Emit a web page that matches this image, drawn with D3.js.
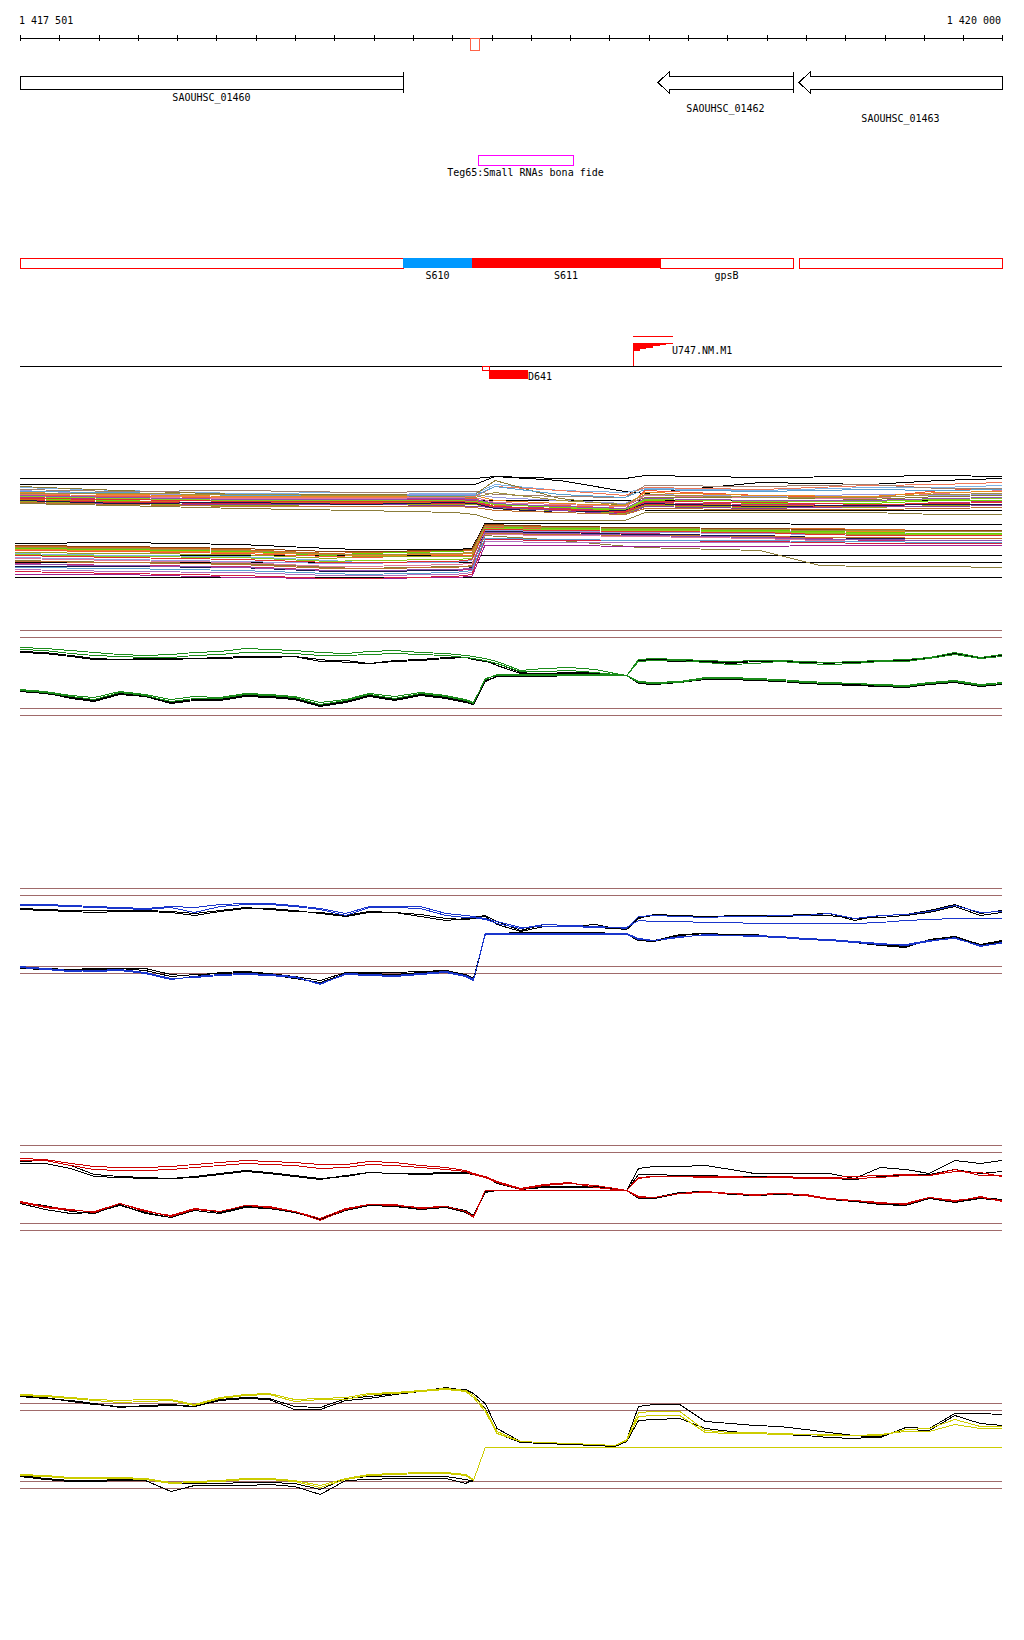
<!DOCTYPE html>
<html><head><meta charset="utf-8">
<script src="https://cdn.jsdelivr.net/npm/d3@7"></script>
<style>
html,body{margin:0;padding:0;background:#fff;}
svg text{font-family:"DejaVu Sans Mono",monospace;font-size:10px;fill:#000;}
svg line, svg rect, svg path, svg polygon{shape-rendering:crispEdges;}
</style></head><body>
<svg id="c" width="1024" height="1640"></svg>
<script>
// ---------------- DATA ----------------
const startPos = 1417501, endPos = 1420000;
const axisTicks = [1417501,1417601,1417701,1417801,1417901,1418001,1418101,1418201,1418301,1418401,1418501,1418601,1418701,1418801,1418901,1419001,1419101,1419201,1419301,1419401,1419501,1419601,1419701,1419801,1419901,1420000];
const axisLabels = ["1 417 501","1 420 000"];
const axisMarker = [1418646,1418669];

const geneNames = ["SAOUHSC_01460","SAOUHSC_01462","SAOUHSC_01463"];
const geneStart = [1417501,1419125,1419483];
const geneEnd = [1418476,1419468,1420000];
const geneStrand = ["+","-","-"];
const geneLabelRow = [0,1,2];

const srnaName = ["Teg65:Small RNAs bona fide"];
const srnaStart = [1418666];
const srnaEnd = [1418908];

const segStart = [1417501,1418476,1418651,1419130,1419483];
const segEnd = [1418476,1418651,1419130,1419468,1420000];
const segType = ["outline","blue","red","outline","outline"];
const segLabel = ["","S610","S611","gpsB",""];

const tssName = ["U747.NM.M1"];
const tssStart = [1419061];
const tssEnd = [1419163];
const tssSteps = [8,6,4.5,3,2,1];
const dName = ["D641"];
const dOutline = [1418677,1418695];
const dFill = [1418695,1418794];

// dense expression track (many conditions)
const denseUpPos = [1417501,1417755,1418061,1418366,1418608,1418659,1418710,1418875,1419041,1419092,1419384,1419664,1419842,1420000];
const du01 = [112,112,112,112,112,112,114,112,112,115,113,114,115,114];
const du02 = [106,106,106,106,106,106,114,110,99,97,108,106,110,112];
const du03 = [null,null,null,90,90,90,90,90,90,90,90,90,90,90];
const du04 = [null,null,null,null,null,null,null,null,null,80,80,80,80,80];
const du05 = [103,100,97,98,97,97,106,100,98,102,100,103,103,105];
const du06 = [104,100,96,96,96,96,110,92,85,93,93,91,94,95];
const du07 = [100,96,96,95,96,96,93,90,87,96,94,96,95,96];
const du08 = [95,94,93,93,93,92,85,85,82,100,95,93,100,102];
const du09 = [92,90,87,89,90,90,86,83,80,90,87,87,90,90];
const du10 = [93,91,90,90,91,90,84,82,79,88,86,85,88,89];
const du11 = [91,89,88,88,88,88,83,81,78,87,85,84,87,88];
const du12 = [90,88,87,87,87,87,84,81,78,86,84,83,85,86];
const du13 = [89,87,85,86,86,86,82,80,77,85,83,83,85,86];
const du14 = [87,87,86,86,85,84,83,80,76,84,82,84,84,85];
const du15 = [87,85,82,80,78,76,70,70,70,78,78,78,76,76];
const du16 = [90,87,88,86,88,87,82,78,80,87,84,85,86,86];
const du17 = [96,95,93,93,94,94,104,100,95,103,101,105,106,108];
const du18 = [94,93,92,92,93,93,88,86,84,95,93,92,97,100];
const du19 = [98,96,94,94,95,95,90,87,85,98,95,94,98,99];
const du20 = [101,99,100,98,99,99,96,94,93,105,104,106,102,102];
const du21 = [99,98,95,95,95,95,104,96,93,101,99,101,100,101];
const du22 = [94,92,90,90,90,89,86,84,81,91,89,89,91,92];
const du23 = [92,91,89,89,89,88,84,81,79,89,88,86,87,88];
const du24 = [88,86,84,84,84,83,80,78,76,82,81,81,82,83];
const du25 = [95,93,91,91,92,91,87,84,82,92,90,90,92,93];
const du26 = [97,97,96,95,94,93,98,90,86,96,93,93,96,97];
const denseUpColors = ["#000","#000","#000","#000","#7fb2e5","#8c7a32","#9a9ae0","#f05a3a","#70d800","#c02c78","#d2691e","#d42040","#9aa51c","#8a3c9c","#8b7d3a","#1a1a4a","#f07858","#e07aa0","#e88a20","#a08070","#5aa0d0","#88cc22","#e03030","#c07030","#9050b0","#a09040"];

const denseLowPos = [1417488,1417755,1418061,1418290,1418366,1418608,1418651,1418684,1418875,1419079,1419384,1419537,1419664,1419842,1420000];
const dl01 = [47,48,46,42,41,41,42,67,67,67,67,66,66,66,66];
const dl02 = [37,35,34,30,28,28,30,62,62,61,60,58,57,57,57];
const dl03 = [44,43,41,37,38,39,40,65,64,63,62,62,61,60,60];
const dl04 = [42,41,39,35,37,39,38,63,62,61,60,59,58,57,57];
const dl05 = [40,39,37,34,33,35,35,63,61,60,59,57,57,56,56];
const dl06 = [27,25,24,20,19,20,21,60,58,57,54,52,50,50,50];
const dl07 = [24,24,23,19,19,20,23,59,58,56,55,53,52,52,52];
const dl08 = [33,31,29,27,27,29,30,60,59,58,57,56,55,56,56];
const dl09 = [30,28,27,23,22,24,24,55,50,43,40,25,24,24,23];
const dl10 = [16,16,13,12,12,13,14,45,45,44,44,45,45,45,45];
const dl11 = [21,19,18,15,15,16,18,49,48,48,48,48,47,48,48];
const dl12 = [19,17,15,12,12,14,16,51,50,50,49,48,47,47,47];
const dl13 = [38,37,36,32,34,34,34,61,60,59,58,57,56,56,56];
const dl14 = [45,44,42,39,39,40,41,66,64,63,62,61,60,60,60];
const dl15 = [32,30,28,24,24,26,27,56,55,54,52,50,49,48,48];
const dl16 = [41,40,38,36,35,36,37,64,63,62,61,60,59,59,59];
const dl17 = [36,34,33,29,30,31,32,62,61,60,59,58,57,56,56];
const dl18 = [35,33,31,28,28,29,31,61,60,59,58,56,55,55,55];
const dl19 = [23,22,20,17,16,18,20,52,51,50,50,49,49,48,48];
const dl20 = [29,28,26,22,22,23,25,57,56,55,54,53,53,52,52];
const dl21 = [26,25,23,20,20,21,22,58,57,55,53,51,51,50,50];
const dl22 = [43,42,40,36,36,37,38,64,63,62,61,60,60,59,59];
const denseLowColors = ["#000","#7fb2e5","#d2691e","#66d400","#f05a3a","#c02c78","#1a1a4a","#9a9ae0","#8b7d3a","#a02090","#b070c0","#d42040","#9aa51c","#8b4513","#e07aa0","#e88a20","#88cc22","#e03030","#5aa0d0","#c07030","#9050b0","#a09040"];
const denseFlat = [35,28,13];

// four condition panels
const knotPos = [1417501,1417565,1417630,1417690,1417755,1417820,1417885,1417945,1418010,1418075,1418135,1418200,1418265,1418330,1418390,1418455,1418520,1418585,1418635,1418655,1418685,1418715,1418775,1418835,1418900,1418965,1419015,1419045,1419075,1419115,1419180,1419245,1419310,1419370,1419435,1419500,1419560,1419625,1419690,1419755,1419815,1419880,1419945,1420000];
const panelThresholds = [90,83,12,5];

const p1g1u = [73,72,70,68,66,65,66,68,69,72,71,70,68,67,69,70,68,67,65,64,62,59,50,52,53,51,47,45,61,62,61,60,59,60,60,59,58,59,60,61,63,68,63,66];
const p1g2u = [71,70,67,65,64,63,63,65,66,68,68,67,65,65,66,67,66,65,63,62,60,57,49,49,50,48,46,45,59,60,60,58,56,57,59,57,56,57,59,59,62,66,62,64];
const p1k1u = [68,67,64,61,61,61,61,62,62,63,63,64,61,58,57,59,60,62,63,62,60,55,47,47,48,48,46,45,60,61,60,59,58,60,60,59,57,59,60,60,63,67,62,66];
const p1k2u = [69,68,65,62,61,62,62,62,63,64,64,64,59,60,57,60,61,63,63,61,59,57,48,46,47,47,46,45,59,60,59,59,57,59,59,58,58,58,59,60,62,66,63,65];
const p1g1d = [30,28,24,21,28,25,19,22,22,26,25,23,16,20,26,22,27,24,20,17,42,45,45,45,45,45,45,45,38,37,38,42,42,41,40,38,37,37,35,34,37,39,35,37];
const p1g2d = [31,29,25,23,29,26,21,24,23,27,26,24,18,21,27,24,28,25,21,18,41,46,46,46,46,46,46,45,39,38,39,43,43,42,41,39,38,37,36,35,38,40,36,38];
const p1k1d = [29,27,23,20,27,24,18,21,21,25,24,22,15,19,25,21,26,23,19,17,40,44,44,44,45,45,45,45,37,36,38,41,41,40,39,37,36,36,34,33,36,38,34,36];
const p1k2d = [30,28,22,19,26,24,17,20,20,24,23,21,14,18,24,20,25,22,18,16,39,44,45,45,45,45,45,45,38,37,38,42,42,41,39,37,36,35,34,33,36,38,35,36];

const p2b1u = [74,74,73,72,71,70,72,71,74,75,75,73,70,65,72,72,72,65,63,62,60,57,51,52,52,51,51,51,58,57,57,56,56,55,55,55,55,55,56,58,59,60,60,60];
const p2b2u = [73,73,72,71,70,69,71,66,72,74,74,72,69,63,71,71,70,63,61,61,59,55,50,54,53,52,51,50,62,63,62,61,62,62,63,63,65,60,63,64,67,73,66,67];
const p2k1u = [70,69,68,68,68,68,67,65,68,71,69,67,66,63,67,66,62,58,60,61,63,57,48,54,53,51,50,49,60,64,63,62,62,63,63,64,65,58,63,64,68,74,65,68];
const p2k2u = [69,68,67,66,67,67,66,63,67,70,70,68,65,62,66,66,64,60,59,60,62,54,47,52,52,54,50,49,61,63,62,61,63,62,62,63,63,60,61,63,66,72,63,66];
const p2b1d = [11,9,7,8,9,6,0,1,3,4,3,1,-5,4,3,2,4,6,2,-2,45,45,45,45,45,45,45,45,40,38,41,44,43,43,42,40,39,37,35,33,37,41,32,36];
const p2b2d = [12,10,8,7,8,5,-1,2,4,5,4,2,-6,5,4,3,5,7,3,-1,44,44,44,44,44,44,44,44,39,38,42,43,43,42,41,39,38,36,34,34,38,40,33,35];
const p2k1d = [10,9,9,10,10,10,4,2,6,7,5,2,-2,6,6,6,7,8,4,0,44,45,46,46,46,46,45,44,38,37,43,45,44,44,41,40,38,37,34,32,38,42,34,38];
const p2k2d = [11,10,9,9,10,8,2,4,5,6,4,0,-4,5,5,4,6,8,2,-2,44,45,45,45,45,45,45,44,38,38,44,45,44,43,42,39,38,36,33,31,39,42,33,37];

const p3r1u = [77,76,72,69,68,68,69,71,73,75,74,73,71,71,74,73,70,68,65,62,59,54,47,51,53,48,46,45,57,59,59,59,58,58,58,57,57,57,58,60,60,64,63,59];
const p3r2u = [75,75,70,66,65,65,66,68,70,72,71,70,67,68,71,70,68,66,64,61,58,53,46,50,52,50,47,45,58,59,59,58,59,58,59,58,58,59,60,61,60,66,60,60];
const p3k1u = [74,75,70,61,59,58,57,59,62,65,63,60,57,59,63,62,62,63,63,61,58,53,46,49,48,48,46,45,67,69,69,70,66,62,62,62,62,57,68,66,62,75,72,75];
const p3k2u = [72,72,67,59,58,57,57,58,61,64,62,59,56,60,63,62,61,62,62,61,59,52,46,48,49,49,47,45,61,61,60,60,59,59,59,58,57,56,59,60,61,66,62,64];
const p3r1d = [33,28,25,24,32,24,20,27,24,30,29,24,17,27,31,31,27,29,24,19,45,45,45,45,45,45,45,45,39,38,42,44,42,41,42,41,37,35,33,31,38,35,38,35];
const p3r2d = [34,29,26,23,32,25,19,26,24,30,28,24,15,26,31,30,28,29,24,18,45,45,45,45,45,45,45,45,38,38,42,43,42,40,42,40,36,35,32,32,38,34,39,34];
const p3k1d = [33,30,24,22,31,22,18,27,23,29,28,23,17,26,30,30,27,29,25,20,44,45,45,45,45,45,45,45,38,37,42,44,42,41,42,40,36,34,31,30,38,34,38,36];
const p3k2d = [32,26,22,23,30,23,18,25,22,28,27,23,16,25,30,29,26,28,23,19,43,45,45,45,45,45,45,45,37,38,43,44,41,40,41,40,37,34,32,30,37,33,37,35];

const p4y1u = [99,98,96,94,93,94,94,89,96,99,100,94,95,96,100,101,103,105,103,98,84,62,52,51,50,49,48,54,81,82,82,63,61,61,60,59,59,58,58,64,65,74,67,67];
const p4y2u = [98,97,95,93,91,92,93,88,95,98,99,92,94,94,99,100,102,104,102,96,82,60,52,51,50,49,48,53,77,78,78,61,60,60,59,59,58,58,59,62,62,69,65,65];
const p4k1u = [97,95,93,90,86,88,89,87,93,95,94,84,84,93,95,99,102,106,103,98,85,60,51,50,49,48,47,54,87,89,89,72,70,68,67,64,61,58,56,66,65,80,80,79];
const p4k2u = [98,96,92,89,87,87,88,87,94,96,95,87,86,95,97,100,103,105,104,100,90,65,52,51,50,49,47,52,73,74,75,65,62,60,59,58,56,55,57,64,63,78,70,68];
const p4y1d = [18,17,15,15,15,14,10,11,12,14,14,12,6,14,18,19,20,20,18,13,46,46,46,46,46,46,46,46,46,46,46,46,46,46,46,46,46,46,46,46,46,46,46,46];
const p4y2d = [19,18,16,16,16,15,11,12,13,15,15,13,8,15,19,20,21,21,19,14,null,null,null,null,null,null,null,null,null,null,null,null,null,null,null,null,null,null,null,null,null,null,null,null];
const p4k1d = [17,14,12,12,13,13,2,8,8,8,9,7,-1,13,14,15,15,15,10,14,null,null,null,null,null,null,null,null,null,null,null,null,null,null,null,null,null,null,null,null,null,null,null,null];
const p4k2d = [18,15,13,13,14,14,10,10,10,11,11,10,4,15,17,17,17,17,14,12,null,null,null,null,null,null,null,null,null,null,null,null,null,null,null,null,null,null,null,null,null,null,null,null];

// ---------------- DRAW ----------------
const svg = d3.select("#c");
const x = d3.scaleLinear().domain([startPos, endPos]).range([20, 1002]);
const px = v => Math.round(x(v));

// top ruler
svg.append("line").attr("x1", px(startPos)).attr("x2", px(endPos)).attr("y1", 38).attr("y2", 38).attr("stroke", "#000");
svg.selectAll("line.tick").data(axisTicks).join("line").attr("class","tick")
  .attr("x1", d => px(d)).attr("x2", d => px(d)).attr("y1", 35).attr("y2", 41).attr("stroke", "#000");
svg.append("text").attr("x", px(startPos) - 1).attr("y", 24).text(axisLabels[0]);
svg.append("text").attr("x", px(endPos) - 1).attr("y", 24).attr("text-anchor", "end").text(axisLabels[1]);
svg.append("rect").attr("x", px(axisMarker[0])).attr("y", 38).attr("width", px(axisMarker[1]) - px(axisMarker[0])).attr("height", 12)
  .attr("fill", "#fff").attr("stroke", "#ff6347");

// genes
const gTop = 76, gBot = 89, head = 11;
geneNames.forEach((name, i) => {
  const x0 = px(geneStart[i]), x1 = px(geneEnd[i]);
  let d;
  if (geneStrand[i] === "-") {
    const xm = x0 + head;
    d = `M${x0},${(gTop+gBot)/2} L${xm},${gTop-4} L${xm},${gTop} L${x1},${gTop} L${x1},${gBot} L${xm},${gBot} L${xm},${gBot+4} Z`;
  } else {
    d = `M${x0},${gTop} L${x1},${gTop} L${x1},${gBot} L${x0},${gBot} Z`;
  }
  svg.append("path").attr("d", d).attr("fill", "#fff").attr("stroke", "#000");
  if (geneEnd[i] < endPos) {
    svg.append("line").attr("x1", x1).attr("x2", x1).attr("y1", gTop - 4).attr("y2", gBot + 4).attr("stroke", "#000");
  }
  svg.append("text").attr("x", (x0 + x1) / 2).attr("y", 101 + geneLabelRow[i] * 10.5).attr("text-anchor", "middle").text(name);
});

// small RNA
srnaName.forEach((n, i) => {
  const x0 = px(srnaStart[i]), x1 = px(srnaEnd[i]);
  svg.append("rect").attr("x", x0).attr("y", 155).attr("width", x1 - x0).attr("height", 10).attr("fill", "#fff").attr("stroke", "#ff00ff");
  svg.append("text").attr("x", (x0 + x1) / 2).attr("y", 176).attr("text-anchor", "middle").text(n);
});

// segment track
segStart.forEach((s, i) => {
  const x0 = px(s), x1 = px(segEnd[i]);
  const r = svg.append("rect").attr("x", x0).attr("y", 258).attr("width", x1 - x0).attr("height", 10);
  if (segType[i] === "outline") r.attr("fill", "#fff").attr("stroke", "#ff0000");
  else r.attr("fill", segType[i] === "blue" ? "#0099ff" : "#ff0000").attr("stroke", "none");
  if (segLabel[i]) svg.append("text").attr("x", (x0 + x1) / 2).attr("y", 279).attr("text-anchor", "middle").text(segLabel[i]);
});

// TSS / peak track
svg.append("line").attr("x1", px(startPos)).attr("x2", px(endPos)).attr("y1", 366).attr("y2", 366).attr("stroke", "#000");
tssName.forEach((n, i) => {
  const x0 = px(tssStart[i]), x1 = px(tssEnd[i]);
  svg.append("line").attr("x1", x0).attr("x2", x0).attr("y1", 343).attr("y2", 366).attr("stroke", "#ff0000");
  svg.append("line").attr("x1", x0).attr("x2", x1).attr("y1", 336).attr("y2", 336).attr("stroke", "#ff0000");
  const w = (x1 - x0) / tssSteps.length;
  let pts = [[x0, 343], [x1, 343]];
  for (let k = tssSteps.length - 1; k >= 0; k--) {
    const xr = x0 + (k + 1) * w, xl = x0 + k * w;
    pts.push([xr, 343 + tssSteps[k]]); pts.push([xl, 343 + tssSteps[k]]);
  }
  svg.append("polygon").attr("points", pts.map(p => p.join(",")).join(" ")).attr("fill", "#ff0000");
  svg.append("text").attr("x", x1 - 1).attr("y", 354).text(n);
});
dName.forEach((n, i) => {
  svg.append("rect").attr("x", px(dOutline[0])).attr("y", 366).attr("width", px(dOutline[1]) - px(dOutline[0])).attr("height", 4)
    .attr("fill", "#fff").attr("stroke", "#ff0000");
  svg.append("rect").attr("x", px(dFill[0])).attr("y", 370).attr("width", px(dFill[1]) - px(dFill[0])).attr("height", 9).attr("fill", "#ff0000");
  svg.append("text").attr("x", px(dFill[1])).attr("y", 380).text(n);
});

// dense track
const yDense = d3.scaleLinear().domain([0, 130]).range([590, 460]);
const lineGen = (ys) => d3.line().defined(d => d[1] != null).x(d => x(d[0])).y(d => Math.round(ys(d[1])) + 0.5);
const dUp = [du01,du02,du03,du04,du05,du06,du07,du08,du09,du10,du11,du12,du13,du14,du15,du16,du17,du18,du19,du20,du21,du22,du23,du24,du25,du26];
const dLow = [dl01,dl02,dl03,dl04,dl05,dl06,dl07,dl08,dl09,dl10,dl11,dl12,dl13,dl14,dl15,dl16,dl17,dl18,dl19,dl20,dl21,dl22];
denseFlat.forEach(v => {
  svg.append("line").attr("x1", px(denseLowPos[0])).attr("x2", px(endPos)).attr("y1", yDense(v)).attr("y2", yDense(v)).attr("stroke", "#000");
});
const dg = svg.append("g");
dUp.forEach((arr, i) => {
  dg.append("path").datum(denseUpPos.map((p, j) => [p, arr[j]])).attr("d", lineGen(yDense))
    .attr("fill", "none").attr("stroke", denseUpColors[i]).attr("stroke-width", 1);
});
dLow.forEach((arr, i) => {
  dg.append("path").datum(denseLowPos.map((p, j) => [p, arr[j]])).attr("d", lineGen(yDense))
    .attr("fill", "none").attr("stroke", denseLowColors[i]).attr("stroke-width", 1);
});

// condition panels
const panels = [
  {top: 630, color: "#1a8c1a", black: [p1k1u,p1k2u,p1k1d,p1k2d], col: [p1g1u,p1g2u,p1g1d,p1g2d]},
  {top: 888, color: "#1a36cc", black: [p2k1u,p2k2u,p2k1d,p2k2d], col: [p2b1u,p2b2u,p2b1d,p2b2d]},
  {top: 1145, color: "#cc0000", black: [p3k1u,p3k2u,p3k1d,p3k2d], col: [p3r1u,p3r2u,p3r1d,p3r2d]},
  {top: 1403, color: "#cccc00", black: [p4k1u,p4k2u,p4k1d,p4k2d], col: [p4y1u,p4y2u,p4y1d,p4y2d]}
];
panels.forEach(p => {
  const ys = d3.scaleLinear().domain([0, 100]).range([p.top + 90, p.top - 10]);
  const g = svg.append("g");
  panelThresholds.forEach(t => {
    g.append("line").attr("x1", px(startPos)).attr("x2", px(endPos)).attr("y1", ys(t)).attr("y2", ys(t)).attr("stroke", "#a06a6a");
  });
  p.black.forEach(arr => {
    g.append("path").datum(knotPos.map((k, j) => [k, arr[j]])).attr("d", lineGen(ys))
      .attr("fill", "none").attr("stroke", "#000").attr("stroke-width", 1);
  });
  p.col.forEach(arr => {
    g.append("path").datum(knotPos.map((k, j) => [k, arr[j]])).attr("d", lineGen(ys))
      .attr("fill", "none").attr("stroke", p.color).attr("stroke-width", 1);
  });
});
</script>
</body></html>
